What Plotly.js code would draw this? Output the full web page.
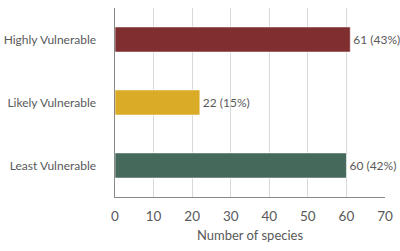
<!DOCTYPE html>
<html><head><meta charset="utf-8">
<script src="https://cdn.plot.ly/plotly-3.0.1.min.js"></script>
<style>html,body{margin:0;padding:0;background:#fff}#c{width:400px;height:251px}</style>
</head><body><div id="c"></div>
<script>
const categories = ["Highly Vulnerable", "Likely Vulnerable", "Least Vulnerable"];
const counts = [61, 22, 60];
const percents = ["43%", "15%", "42%"];
const colors = ["#7f2f2f", "#d9ab27", "#45695a"];
const xTicks = [0, 10, 20, 30, 40, 50, 60, 70];

const labels = counts.map((c, i) => c + " (" + percents[i] + ")");
const font = {family: "Lato, 'Open Sans', sans-serif", size: 12, color: "#595959"};

Plotly.newPlot("c", [{
  type: "bar",
  orientation: "h",
  y: categories,
  x: counts,
  text: labels,
  textposition: "outside",
  cliponaxis: false,
  textfont: font,
  marker: {color: colors, line: {color: "rgba(255,255,255,0.6)", width: 1}},
  hoverinfo: "none"
}], {
  width: 400, height: 251,
  margin: {l: 115, r: 15, t: 8, b: 54},
  paper_bgcolor: "#fff", plot_bgcolor: "#fff",
  font: font,
  bargap: 0.6,
  showlegend: false,
  xaxis: {
    range: [0, 70], tickvals: xTicks, ticktext: xTicks.map(String),
    showgrid: true, gridcolor: "#d9d9d9", gridwidth: 1,
    zeroline: false, showline: true, linecolor: "#888", linewidth: 1,
    ticks: "", ticklen: 0, ticklabelstandoff: 7,
    tickfont: {family: font.family, size: 13.5, color: "#595959"},
    title: {text: "Number of species", font: {family: font.family, size: 13, color: "#595959"}, standoff: 7}
  },
  yaxis: {
    autorange: "reversed", showgrid: false, zeroline: false,
    showline: true, linecolor: "#888", linewidth: 1.5,
    ticks: "", ticklen: 0, ticklabelstandoff: 15,
    tickfont: {family: font.family, size: 12, color: "#595959"}
  }
}, {staticPlot: true, displayModeBar: false});
</script></body></html>
